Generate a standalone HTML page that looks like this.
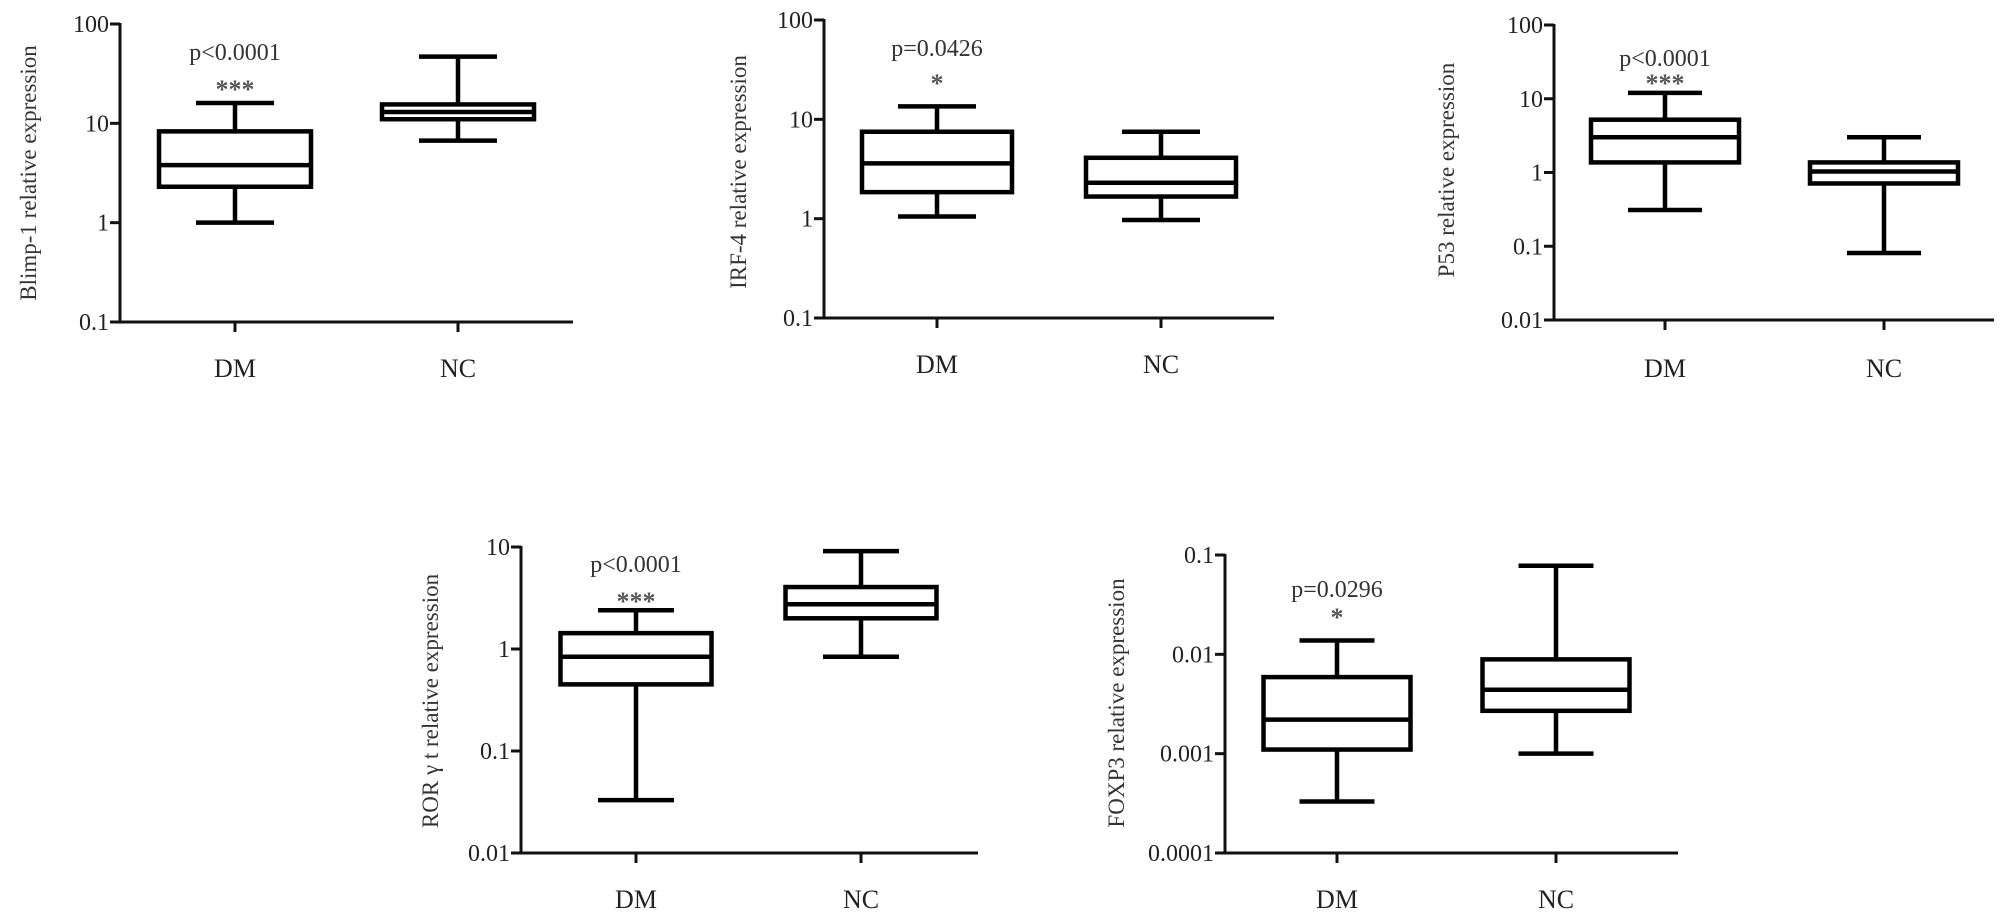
<!DOCTYPE html>
<html><head><meta charset="utf-8"><style>
html,body{margin:0;padding:0;background:#fff;}
svg{display:block;font-family:"Liberation Serif",serif;}
</style></head><body>
<svg id="fig" width="2008" height="912" viewBox="0 0 2008 912" xmlns="http://www.w3.org/2000/svg"></svg>
<script>
// Data (five-number summaries: min, q1, median, q3, max)
const categories = ["DM", "NC"];
const blimpDM = [1.0, 2.3, 3.8, 8.3, 16];
const blimpNC = [6.7, 11, 13, 15.5, 47];
const irfDM = [1.05, 1.85, 3.6, 7.5, 13.5];
const irfNC = [0.97, 1.67, 2.3, 4.1, 7.5];
const p53DM = [0.31, 1.37, 3.0, 5.2, 12];
const p53NC = [0.081, 0.71, 1.03, 1.37, 3.0];
const rorDM = [0.033, 0.45, 0.84, 1.43, 2.4];
const rorNC = [0.84, 2.0, 2.75, 4.05, 9.1];
const foxDM = [0.00033, 0.0011, 0.0022, 0.0059, 0.0138];
const foxNC = [0.001, 0.0027, 0.0044, 0.0089, 0.078];
const ticksA = ["0.1", "1", "10", "100"];
const ticksB = ["0.01", "0.1", "1", "10", "100"];
const ticksC = ["0.01", "0.1", "1", "10"];
const ticksD = ["0.0001", "0.001", "0.01", "0.1"];
const titles = ["Blimp-1 relative expression", "IRF-4 relative expression", "P53 relative expression", "ROR \u03b3 t relative expression", "FOXP3 relative expression"];
const pTexts = ["p<0.0001", "p=0.0426", "p<0.0001", "p<0.0001", "p=0.0296"];
const stars = ["***", "*", "***", "***", "*"];

const NS = "http://www.w3.org/2000/svg";
const svg = document.getElementById("fig");
function mk(tag, attrs, parent, text) {
  const e = document.createElementNS(NS, tag);
  for (const k in attrs) e.setAttribute(k, attrs[k]);
  if (text !== undefined) e.textContent = text;
  parent.appendChild(e);
  return e;
}

const panels = [
  {ax:120, top:24, bot:322, xend:573, cx:[235,458], bw:152, cw:78, tx:28, ty:173, py:60, sy:88, ly:377, ticks:ticksA, data:[blimpDM, blimpNC]},
  {ax:824, top:20, bot:318, xend:1274, cx:[937,1161], bw:150, cw:78, tx:738, ty:172, py:56, sy:82, ly:373, ticks:ticksA, data:[irfDM, irfNC]},
  {ax:1554, top:25, bot:320, xend:1994, cx:[1665,1884], bw:148, cw:74, tx:1446, ty:170, py:66, sy:82, ly:377, ticks:ticksB, data:[p53DM, p53NC]},
  {ax:521, top:547, bot:853, xend:978, cx:[636,861], bw:151, cw:76, tx:430, ty:701, py:572, sy:600, ly:908, ticks:ticksC, data:[rorDM, rorNC]},
  {ax:1225, top:555, bot:853, xend:1678, cx:[1337,1556], bw:147, cw:75, tx:1116, ty:703, py:597, sy:616, ly:908, ticks:ticksD, data:[foxDM, foxNC]}
];

panels.forEach((P, i) => {
  const g = mk("g", {}, svg);
  
  
  const lo = Math.log10(parseFloat(P.ticks[0]));
  const hi = Math.log10(parseFloat(P.ticks[P.ticks.length - 1]));
  const y = v => P.bot - (Math.log10(v) - lo) / (hi - lo) * (P.bot - P.top);

  const ya = mk("line", {x1:P.ax, y1:P.top - 1, x2:P.ax, y2:P.bot, stroke:"#111", "stroke-width":3}, g);
  
  
  const xa = mk("line", {x1:P.ax - 10, y1:P.bot, x2:P.xend, y2:P.bot, stroke:"#111", "stroke-width":3}, g);
  
  

  P.ticks.forEach(t => {
    const ty = y(parseFloat(t));
    mk("line", {x1:P.ax - 10, y1:ty, x2:P.ax, y2:ty, stroke:"#111", "stroke-width":3}, g);
    const tl = mk("text", {x:P.ax - 11, y:ty + 8, "text-anchor":"end", "font-size":24, fill:"#222"}, g, t);
    
    
  });

  const title = mk("text", {x:0, y:0, "text-anchor":"middle", "font-size":23, fill:"#333", transform:`translate(${P.tx + 8},${P.ty}) rotate(-90)`}, g, titles[i]);
  
  

  categories.forEach((c, j) => {
    const cx = P.cx[j];
    mk("line", {x1:cx, y1:P.bot, x2:cx, y2:P.bot + 10, stroke:"#111", "stroke-width":3}, g);
    const cl = mk("text", {x:cx, y:P.ly, "text-anchor":"middle", "font-size":26, fill:"#222"}, g, c);
    
    

    const d = P.data[j];
    const bg = mk("g", {stroke:"#000", "stroke-width":4.5, fill:"none"}, g);
    
    
    mk("line", {x1:cx, y1:y(d[0]), x2:cx, y2:y(d[1])}, bg);
    mk("line", {x1:cx, y1:y(d[3]), x2:cx, y2:y(d[4])}, bg);
    mk("line", {x1:cx - P.cw / 2, y1:y(d[0]), x2:cx + P.cw / 2, y2:y(d[0])}, bg);
    mk("line", {x1:cx - P.cw / 2, y1:y(d[4]), x2:cx + P.cw / 2, y2:y(d[4])}, bg);
    mk("rect", {x:cx - P.bw / 2, y:y(d[3]), width:P.bw, height:y(d[1]) - y(d[3])}, bg);
    mk("line", {x1:cx - P.bw / 2, y1:y(d[2]), x2:cx + P.bw / 2, y2:y(d[2])}, bg);
  });

  const pt = mk("text", {x:P.cx[0], y:P.py, "text-anchor":"middle", "font-size":24, fill:"#333"}, g, pTexts[i]);
  
  
  const st = mk("text", {x:P.cx[0], y:P.sy + 10, "text-anchor":"middle", "font-size":26, "font-weight":"bold", fill:"#555"}, g, stars[i]);
  
  
});
</script>
</body></html>
